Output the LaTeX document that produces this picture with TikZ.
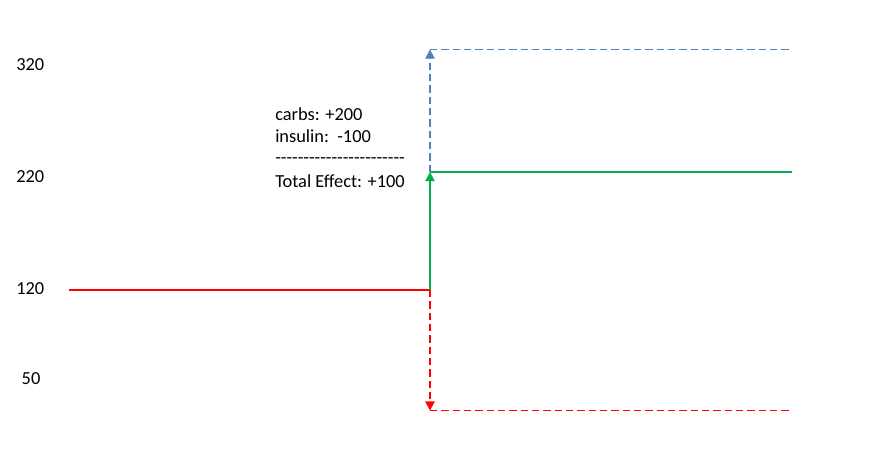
\documentclass[tikz,border=0pt]{standalone}
\usepackage{fontspec}
\setmainfont{Carlito}
\usetikzlibrary{arrows.meta}
\definecolor{cred}{HTML}{FF0000}
\definecolor{cgreen}{HTML}{00B050}
\definecolor{cblue}{HTML}{4F81BD}
\newcommand\hh{\mbox{-}}
\begin{document}
\begin{tikzpicture}[x=0.75pt,y=-0.75pt,
  lbl/.style={anchor=base west,inner sep=0pt,font=\fontsize{13.8}{16}\selectfont},
  ylbl/.style={anchor=base,inner sep=0pt,font=\fontsize{13.8}{16}\selectfont},
  solidline/.style={line width=1pt},
  dashline/.style={line width=1pt,dash pattern=on 5.6pt off 2.9pt},
  tip/.style={-{Triangle[width=7pt,length=6.8pt]}}]
\useasboundingbox (0,0) rectangle (882,455);
% axis labels
\node[ylbl] (l320) at (30.3,70.7) {320};
\node[ylbl] (l220) at (30.3,182.3) {220};
\node[ylbl] (l120) at (30.3,294.3) {120};
\node[ylbl] (l50) at (31,384.3) {50};
% coordinates
\coordinate (start) at (69,290);
\coordinate (step) at (430,290);
\coordinate (gtop) at (430,172);
\coordinate (gend) at (792,172);
\coordinate (btop) at (430,49.5);
\coordinate (bend) at (791,49.5);
\coordinate (rbot) at (430,410.5);
\coordinate (rend) at (790,410.5);
% lines
\draw[solidline,cred] (start) -- (step);
\draw[solidline,cgreen,tip] (step) -- (gtop);
\draw[solidline,cgreen] (gtop) -- (gend);
\draw[dashline,cblue,tip] (gtop) -- (btop);
\draw[dashline,cblue] (btop) -- (bend);
\draw[dashline,cred,tip] (step) -- (rbot);
\draw[dashline,cred] (rbot) -- (rend);
% text block
\node[lbl] (carbs) at (275,120.7) {carbs: +200};
\node[lbl] (insulin) at (275,142.7) {insulin:\ \ -100};
\node[lbl] (rule) at (275,163) {\hh\hh\hh\hh\hh\hh\hh\hh\hh\hh\hh\hh\hh\hh\hh\hh\hh\hh\hh\hh\hh\hh\hh};
\node[lbl] (total) at (275,187.3) {Total Effect: +100};
\end{tikzpicture}
\end{document}
